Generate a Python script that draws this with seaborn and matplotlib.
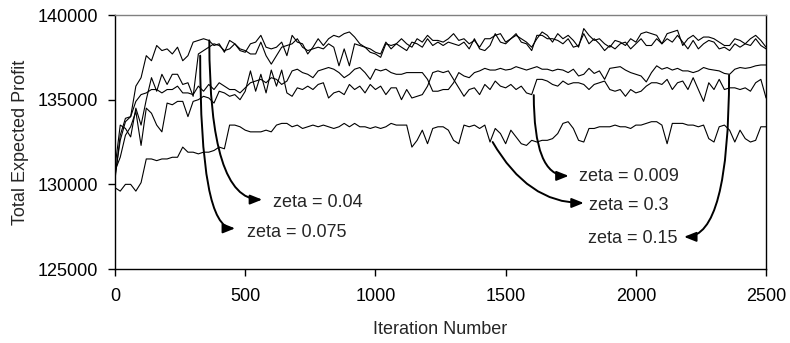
import matplotlib
matplotlib.use("Agg")
import matplotlib.pyplot as plt
import pandas as pd
import seaborn as sns

# iteration grid (every 20 iterations)
iterations = list(range(0, 2501, 20))

# total expected profit, in thousands
zeta_004 = [
    130.5, 132.6, 133.7, 134.0, 135.8, 136.3, 137.6, 137.3, 138.2, 137.9,
    138.0, 137.7, 138.1, 137.3, 137.6, 138.4, 138.5, 138.6, 138.5, 138.2,
    138.3, 137.8, 138.5, 138.3, 137.9, 137.8, 138.3, 138.4, 138.8, 138.1,
    138.0, 138.1, 138.4, 137.6, 138.8, 138.4, 138.3, 137.7, 138.1, 138.6,
    138.2, 138.6, 138.8, 138.7, 138.9, 139.0, 138.7, 138.3, 138.1, 138.0,
    137.8, 137.7, 138.4, 138.0, 138.3, 138.6, 138.3, 138.1, 138.6, 138.4,
    138.8, 138.5, 138.5, 138.4, 138.6, 138.9, 138.5, 138.6, 138.3, 138.5,
    138.1, 138.6, 138.6, 138.8, 138.9, 138.4, 138.6, 138.8, 138.6, 138.4,
    138.1, 138.6, 139.0, 138.8, 138.4, 138.9, 138.6, 138.8, 138.5, 138.1,
    139.2, 138.8, 138.5, 138.6, 138.3, 138.1, 138.5, 138.4, 138.2, 138.6,
    138.4, 138.9, 139.0, 138.9, 138.8, 138.3, 138.9, 139.0, 139.1, 138.2,
    138.6, 138.8, 138.5, 138.7, 138.7, 138.6, 138.4, 138.2, 138.2, 138.6,
    138.5, 138.3, 138.6, 138.8, 138.5, 138.1]

zeta_0075 = [
    131.0, 133.5, 133.3, 132.8, 134.5, 133.5, 135.0, 136.3, 135.5, 136.5,
    135.9, 136.5, 136.5, 135.9, 136.0, 135.2, 137.7, 137.9, 138.1, 138.3,
    138.2, 137.9, 138.0, 138.3, 138.0, 137.9, 137.7, 137.7, 138.4, 137.6,
    137.1, 137.6, 138.1, 138.2, 138.3, 138.6, 138.1, 137.9, 138.0, 138.1,
    138.0, 138.3, 138.1, 137.0, 138.0, 137.0, 138.3, 138.2, 138.1, 137.8,
    137.7, 137.5, 138.3, 138.2, 138.3, 138.1, 137.9, 138.4, 138.3, 138.1,
    138.6, 138.2, 138.4, 138.2, 138.4, 138.3, 138.2, 138.4, 138.0, 138.6,
    138.0, 137.9, 138.2, 138.9, 138.4, 138.3, 138.6, 138.9, 138.4, 138.3,
    137.9, 138.8, 138.8, 138.6, 138.6, 138.5, 138.3, 138.6, 138.1, 138.2,
    138.9, 138.3, 138.6, 138.3, 137.9, 138.2, 138.0, 138.3, 138.4, 138.0,
    138.3, 138.6, 138.2, 138.2, 138.6, 138.3, 138.6, 138.4, 138.8, 138.4,
    138.0, 138.5, 138.0, 138.3, 138.5, 138.4, 138.0, 138.1, 137.9, 138.3,
    138.1, 138.3, 138.2, 138.6, 138.2, 138.0]

zeta_015 = [
    130.3, 132.9, 133.9, 134.0, 134.9, 135.3, 135.4, 135.6, 135.6, 135.4,
    135.6, 135.6, 135.8, 135.4, 135.4, 135.3, 135.8, 135.5, 135.9, 135.6,
    136.0, 135.8, 135.6, 135.6, 135.4, 135.7, 136.0, 136.1, 136.2, 136.0,
    136.3, 136.2, 135.9, 136.1, 136.7, 136.8, 136.6, 136.5, 136.3, 136.7,
    136.8, 136.9, 136.8, 136.6, 136.3, 136.5, 136.8, 136.9, 136.6, 136.2,
    136.8, 136.7, 136.8, 136.6, 136.5, 136.5, 136.6, 136.6, 136.6, 136.6,
    136.2, 135.5, 135.5, 135.6, 135.6, 136.0, 136.6, 136.4, 136.3, 136.6,
    136.7, 136.85, 136.75, 136.75, 136.85, 136.75, 136.8, 136.95, 136.85, 136.75,
    136.85, 136.95, 136.8, 136.8, 136.7, 136.8, 136.75, 136.6, 136.8, 136.4,
    136.5, 136.85, 136.55, 136.7, 136.2, 136.85, 136.9, 136.95, 136.75, 136.6,
    136.5, 136.4, 136.05, 136.6, 137.0, 136.8, 136.9, 136.75, 136.85, 136.7,
    136.7, 136.6, 136.7, 136.9, 136.8, 136.75, 136.7, 136.55, 136.5, 136.8,
    136.9, 136.85, 136.9, 137.0, 137.05, 137.05]

zeta_0009 = [
    130.8, 131.6, 132.9, 133.4, 134.3, 132.3, 134.5, 134.2, 133.5, 133.1,
    134.8, 134.7, 134.9, 134.9, 134.0, 134.9, 135.0, 135.2, 135.1, 134.8,
    135.5, 135.4, 135.2, 135.3, 135.0, 135.5, 136.7, 135.5, 136.5, 135.4,
    136.75, 135.8, 136.75, 135.4, 135.2, 135.7, 135.6, 135.8, 135.6, 135.9,
    136.0, 135.1, 135.4, 135.5, 135.3, 135.9, 135.6, 135.8, 135.4, 135.9,
    135.6, 135.8, 135.3, 135.7, 135.7, 135.0, 135.6, 135.1, 135.2, 135.3,
    135.8, 136.6, 136.7, 136.6, 136.7, 136.2, 135.7, 135.2, 135.6, 135.7,
    135.3, 135.9, 135.6, 136.1, 135.8, 135.7, 135.9, 135.6, 135.8, 135.4,
    135.3, 136.2, 136.2, 136.1, 135.9, 135.8, 136.1, 135.9, 136.0, 136.0,
    135.9, 135.6, 135.9, 136.0, 136.1, 135.6, 135.5, 135.6, 135.2, 135.6,
    135.4, 135.5, 135.8, 136.0, 136.0, 135.9, 136.2, 135.6, 136.0, 136.1,
    135.6, 136.3, 135.6, 134.9, 136.0, 135.6, 136.2, 135.6, 135.7, 135.7,
    135.6, 135.7, 135.5, 136.0, 136.2, 135.1]

zeta_03 = [
    129.8, 129.6, 130.0, 130.0, 129.6, 130.1, 131.5, 131.5, 131.4, 131.5,
    131.5, 131.6, 131.6, 132.2, 131.9, 131.9, 131.8, 131.9, 131.9, 132.0,
    132.2, 132.1, 133.5, 133.5, 133.4, 133.2, 133.1, 133.1, 133.1, 133.2,
    133.1, 133.5, 133.6, 133.6, 133.4, 133.5, 133.3, 133.4, 133.5, 133.4,
    133.5, 133.4, 133.3, 133.4, 133.6, 133.4, 133.6, 133.4, 133.4, 133.3,
    133.4, 133.3, 133.4, 133.6, 133.5, 133.5, 133.5, 132.2, 132.6, 133.2,
    132.4, 133.3, 133.4, 133.4, 133.2, 132.6, 132.4, 133.5, 133.4, 133.5,
    133.3, 133.5, 132.5, 133.3, 133.0, 132.4, 133.2, 132.8, 132.4, 132.3,
    132.6, 132.5, 132.6, 132.6, 132.7, 133.0, 133.6, 133.7, 133.3, 132.6,
    132.5, 133.3, 133.3, 133.4, 133.4, 133.4, 133.5, 133.4, 133.4, 133.3,
    133.5, 133.5, 133.6, 133.7, 133.7, 133.5, 132.4, 133.6, 133.6, 133.6,
    133.5, 133.5, 133.4, 133.5, 132.7, 132.5, 133.4, 133.5, 133.2, 132.5,
    133.2, 132.7, 132.5, 132.6, 133.4, 133.4]

series = {
    "0.04": zeta_004,
    "0.075": zeta_0075,
    "0.15": zeta_015,
    "0.009": zeta_0009,
    "0.3": zeta_03,
}

ytick_values = [125000, 130000, 135000, 140000]
ytick_labels = ["125000", "130000", "135000", "140000"]
xtick_values = [0, 500, 1000, 1500, 2000, 2500]


def BuildFrame():
    frames = []
    for zeta, values in series.items():
        frames.append(pd.DataFrame({
            "iteration": iterations,
            "profit": [v * 1000 for v in values],
            "zeta": zeta,
        }))
    return pd.concat(frames, ignore_index=True)


def Annotate(ax, label, start, tip, textpos, ha, conn):
    ax.annotate("", xy=tip, xytext=start,
                arrowprops=dict(arrowstyle="-|>,head_length=0.55,head_width=0.22",
                                connectionstyle=conn, color="black", lw=1.4,
                                shrinkA=0, shrinkB=0, mutation_scale=13))
    ax.text(textpos[0], textpos[1], label, ha=ha, va="center", fontsize=13)


dfResults = BuildFrame()

sns.set_style("ticks")
plt.rcParams['font.family'] = ['Liberation Sans', 'DejaVu Sans']

fig = plt.figure(figsize=(7.9, 3.43), dpi=100)
ax = fig.add_axes([0.1456, 0.2157, 0.8241, 0.7405])

sns.lineplot(data=dfResults, x="iteration", y="profit", hue="zeta",
             palette=["black"] * len(series), linewidth=0.8,
             legend=False, errorbar=None, ax=ax)

ax.set_xlim(0, 2500)
ax.set_ylim(125000, 140000)
ax.set_xticks(xtick_values)
ax.set_xticklabels([str(v) for v in xtick_values])
ax.set_yticks(ytick_values)
ax.set_yticklabels(ytick_labels)
ax.tick_params(axis="both", direction="out", length=5, width=1,
               labelsize=13, colors="black")
ax.tick_params(axis="x", pad=8.5)
ax.tick_params(axis="y", pad=7)

for side in ["left", "bottom", "right"]:
    ax.spines[side].set_color("black")
    ax.spines[side].set_linewidth(1)
ax.spines["top"].set_color("#808080")
ax.spines["top"].set_linewidth(1)
ax.spines["right"].set_visible(True)
ax.spines["top"].set_visible(True)

ax.set_xlabel("Iteration Number", fontsize=13)
ax.set_ylabel("Total Expected Profit", fontsize=13)
ax.xaxis.set_label_coords(0.5, -0.205)
ax.yaxis.set_label_coords(-0.132, 0.5)

Annotate(ax, "zeta = 0.04", (362, 138500), (565, 129100), (608, 128950), "left",
         "angle3,angleA=-90,angleB=0")
Annotate(ax, "zeta = 0.075", (327, 137600), (461, 127400), (508, 127180), "left",
         "angle3,angleA=-90,angleB=0")
Annotate(ax, "zeta = 0.009", (1608, 135270), (1742, 130500), (1781, 130490), "left",
         "angle3,angleA=-90,angleB=0")
Annotate(ax, "zeta = 0.3", (1450, 132500), (1800, 128900), (1819, 128780), "left",
         "angle3,angleA=-60,angleB=0")
Annotate(ax, "zeta = 0.15", (2358, 136450), (2185, 126900), (2158, 126830), "right",
         "angle3,angleA=-90,angleB=0")

fig.savefig("out.png", dpi=100)
plt.close(fig)
